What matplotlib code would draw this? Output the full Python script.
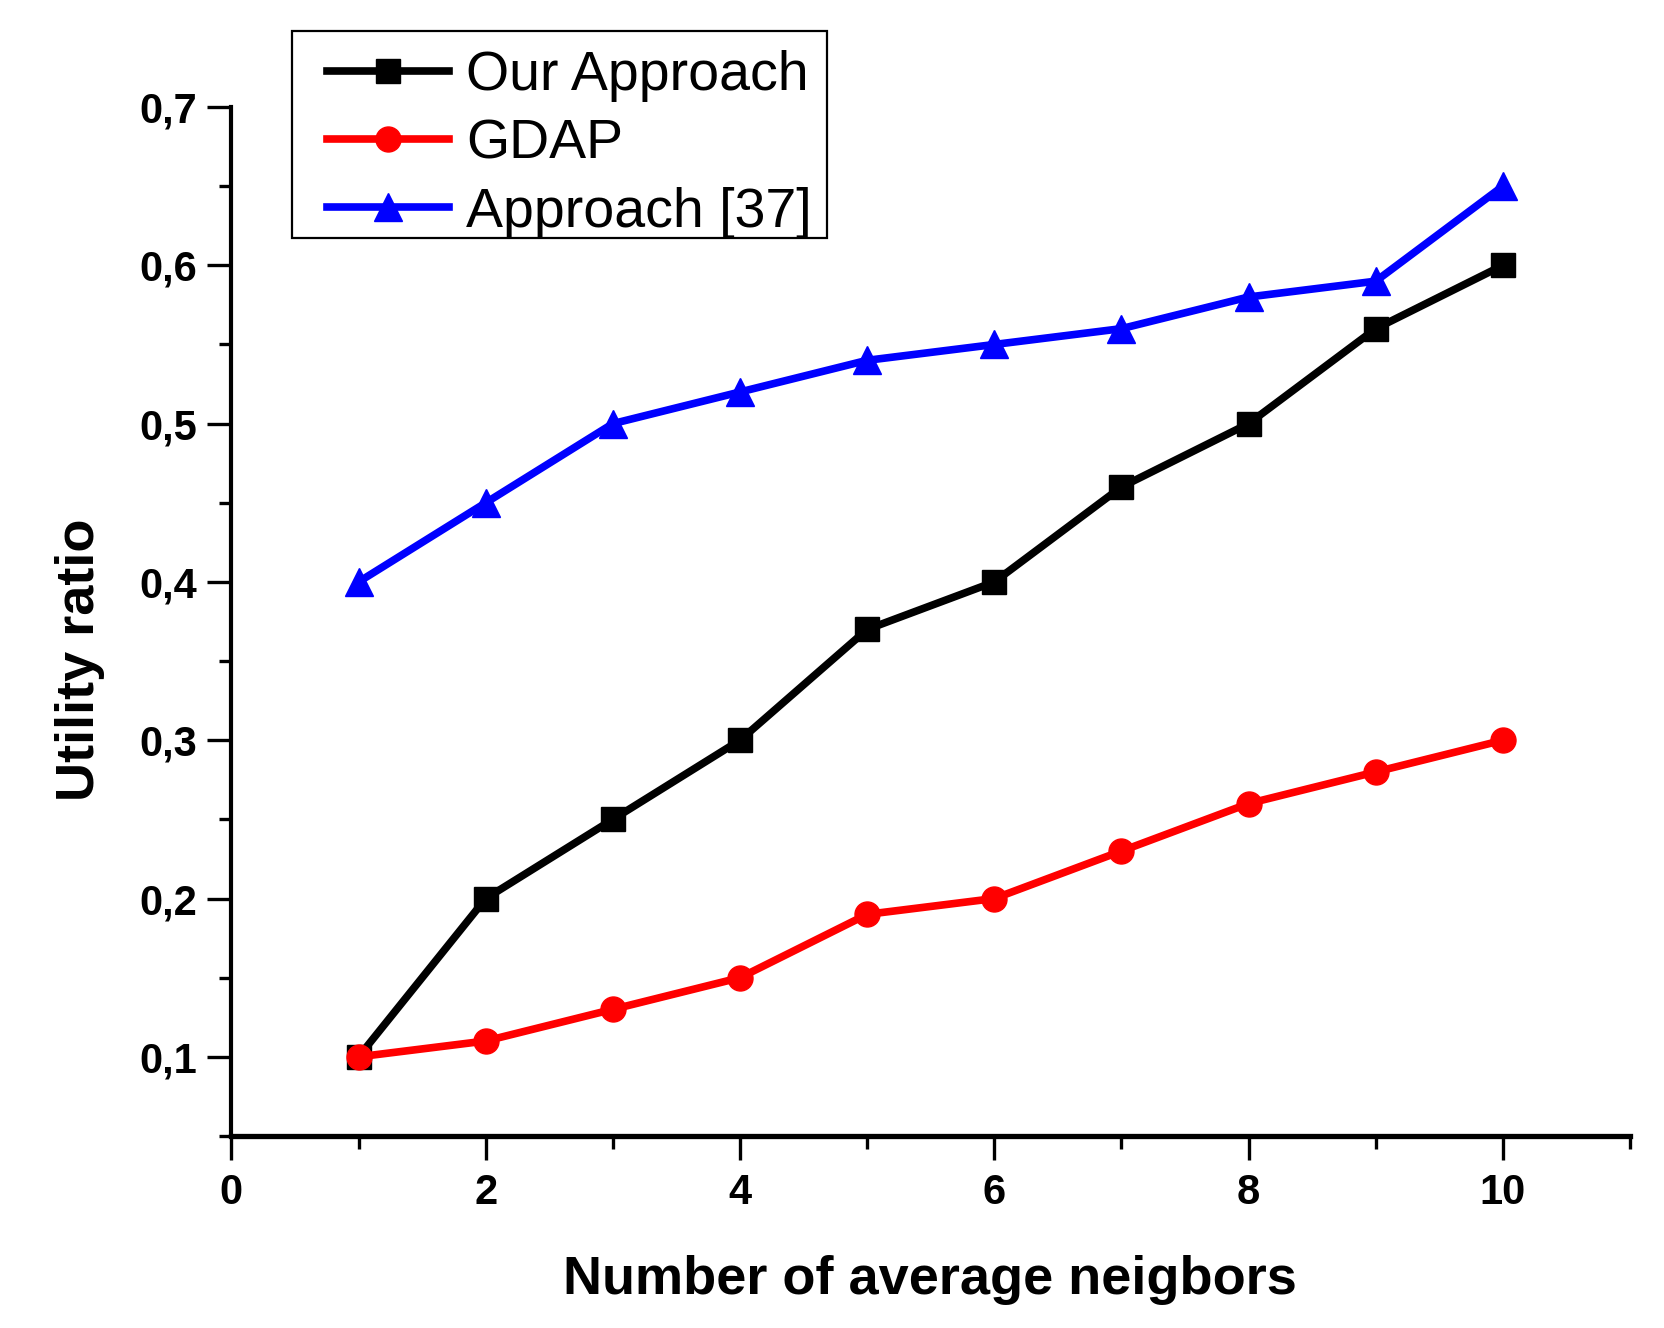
import matplotlib
matplotlib.use("Agg")
import matplotlib.pyplot as plt
from matplotlib.patches import Rectangle
from matplotlib.ticker import MultipleLocator, FuncFormatter

plt.rcParams['font.family'] = ['Liberation Sans', 'DejaVu Sans']

neighbors = [1, 2, 3, 4, 5, 6, 7, 8, 9, 10]
our_approach = [0.10, 0.20, 0.25, 0.30, 0.37, 0.40, 0.46, 0.50, 0.56, 0.60]
gdap = [0.10, 0.11, 0.13, 0.15, 0.19, 0.20, 0.23, 0.26, 0.28, 0.30]
approach_37 = [0.40, 0.45, 0.50, 0.52, 0.54, 0.55, 0.56, 0.58, 0.59, 0.65]

fig = plt.figure(figsize=(16.65, 13.28), dpi=100)
ax = fig.add_axes([0.139, 0.1446, 0.840, 0.7748])

# series
ax.plot(neighbors, our_approach, color='black', linewidth=5.5,
        marker='s', markersize=17.5, label="Our Approach")
ax.plot(neighbors, gdap, color='red', linewidth=5.5,
        marker='o', markersize=18, label="GDAP")
ax.plot(neighbors, approach_37, color='blue', linewidth=5.5,
        marker='^', markersize=20, label="Approach [37]")

ax.set_xlim(0, 11)
ax.set_ylim(0.05, 0.7)

ax.xaxis.set_major_locator(MultipleLocator(2))
ax.xaxis.set_minor_locator(MultipleLocator(1))
ax.yaxis.set_major_locator(MultipleLocator(0.1))
ax.yaxis.set_minor_locator(MultipleLocator(0.05))
ax.yaxis.set_major_formatter(FuncFormatter(lambda v, p: f"{v:.1f}".replace('.', ',')))

for side in ['top', 'right']:
    ax.spines[side].set_visible(False)
ax.spines['left'].set_linewidth(3)
ax.spines['bottom'].set_linewidth(3.8)

ax.tick_params(axis='both', which='major', direction='out', length=17, width=2.4, labelsize=30)
ax.tick_params(axis='both', which='minor', direction='out', length=9, width=2.4)
ax.tick_params(axis='x', which='major', pad=10)
ax.tick_params(axis='y', which='major', pad=8)
for lbl in ax.get_xticklabels() + ax.get_yticklabels():
    lbl.set_fontweight('bold')

ax.set_xlabel("Number of average neigbors", fontsize=39, fontweight='bold', va='center')
ax.xaxis.set_label_coords(0.4995, -0.140)
ax.set_ylabel("Utility ratio", fontsize=39, fontweight='bold', va='center')
ax.yaxis.set_label_coords(-0.108, 0.4626)

# legend without frame; the frame is drawn separately to match the box
leg = ax.legend(loc='upper left', bbox_to_anchor=(0.0683, 1.055), borderaxespad=0,
                borderpad=0, frameon=False, fontsize=40,
                handlelength=2.2, handletextpad=0.31, labelspacing=0.29)
ax.add_patch(Rectangle((0.0435, 0.873), 0.382, 0.201, transform=ax.transAxes,
                       fill=False, edgecolor='black', linewidth=1.6, clip_on=False))

fig.savefig("out.png", dpi=100)
